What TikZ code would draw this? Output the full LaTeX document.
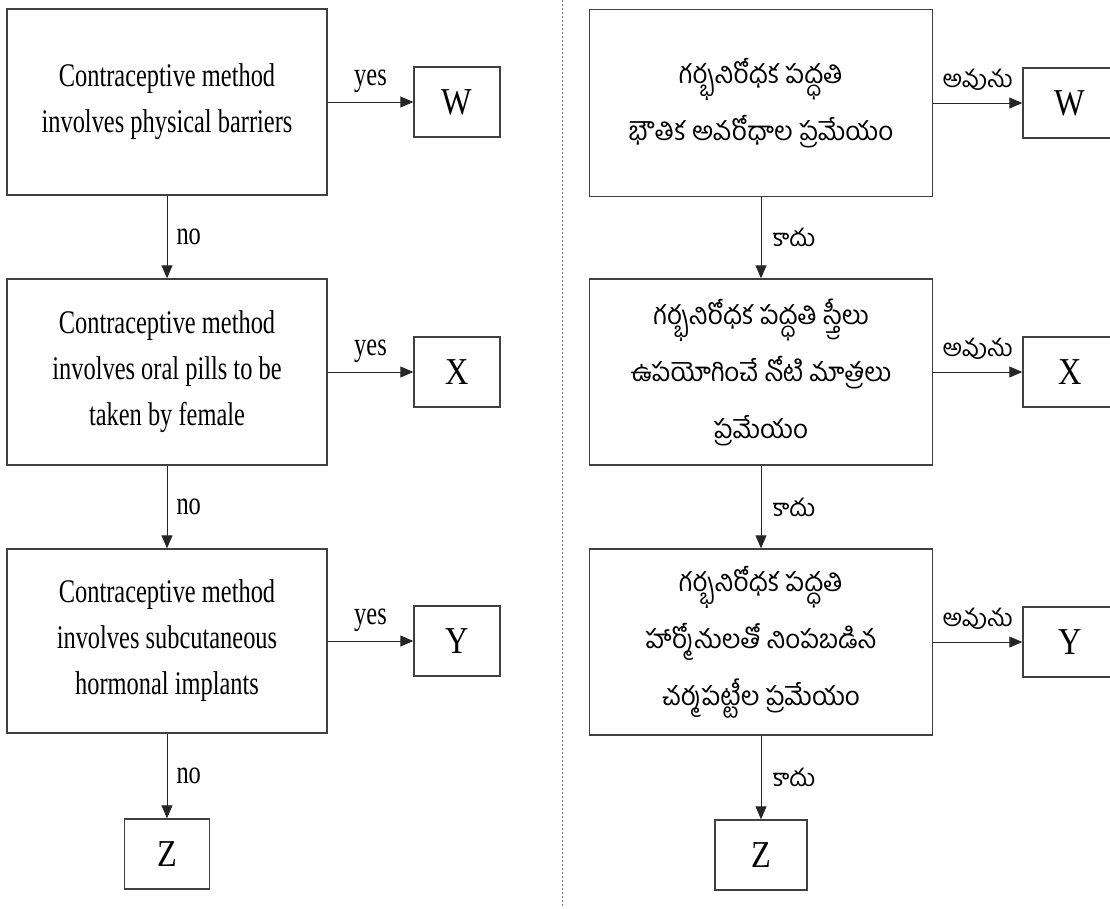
\documentclass[tikz,border=0pt]{standalone}
\usepackage{fontspec}
\setmainfont{Liberation Serif}
\newfontfamily\engf[FakeStretch=0.74]{Liberation Serif}
\newfontfamily\letf[FakeStretch=0.85]{Liberation Serif}
\newfontfamily\tel[Script=Telugu]{Hind Guntur}
\usetikzlibrary{arrows.meta}
\begin{document}
\begin{tikzpicture}[x=1pt,y=-1pt,
  qbox/.style={draw=black!75, line width=1.4pt, rectangle, inner sep=0pt, align=center},
  ebox/.style={qbox, minimum width=320pt, font=\engf\fontsize{33}{46}\selectfont},
  tbox/.style={qbox, minimum width=343pt, font=\tel\fontsize{26}{57}\selectfont},
  lbox/.style={qbox, minimum height=70pt, font=\letf\fontsize{38}{40}\selectfont},
  arr/.style={draw=black!85, line width=1pt, -{Triangle[length=13pt,width=11pt]}},
  elab/.style={font=\engf\fontsize{33}{40}\selectfont, inner sep=0pt},
  tlab/.style={font=\tel\fontsize{24}{30}\selectfont, inner sep=0pt},
  sep/.style={draw={rgb,255:red,110;green,120;blue,165}, line width=1pt, dash pattern=on 2pt off 2pt}
]
\useasboundingbox (0,0) rectangle (1110,908);
\clip (0,0) rectangle (1110,908);
\fill[white] (0,0) rectangle (1110,908);

% separator
\coordinate (s1) at (562,0);
\coordinate (s2) at (562,908);
\draw[sep] (s1) -- (s2);

% left column
\node[ebox, minimum height=186pt] (L1) at (167,102) {Contraceptive method\\involves physical barriers};
\node[ebox, minimum height=186pt] (L2) at (167,372) {Contraceptive method\\involves oral pills to be\\taken by female};
\node[ebox, minimum height=184pt] (L3) at (167,641) {Contraceptive method\\involves subcutaneous\\hormonal implants};
\node[lbox, minimum width=86pt] (LW) at (457,102) {W};
\node[lbox, minimum width=86pt] (LX) at (457,372) {X};
\node[lbox, minimum width=86pt] (LY) at (457,641) {Y};
\node[lbox, minimum width=85pt] (LZ) at (167,854) {Z};

\draw[arr] (L1) -- node[elab, above=9pt] {yes} (LW);
\draw[arr] (L2) -- node[elab, above=9pt] {yes} (LX);
\draw[arr] (L3) -- node[elab, above=9pt] {yes} (LY);
\draw[arr] (L1) -- node[elab, right=9pt] {no} (L2);
\draw[arr] (L2) -- node[elab, right=9pt] {no} (L3);
\draw[arr] (L3) -- node[elab, right=9pt] {no} (LZ);

% right column
\node[tbox, minimum height=187pt] (R1) at (761,103) {గర్భనిరోధక పద్ధతి\\భౌతిక అవరోధాల ప్రమేయం};
\node[tbox, minimum height=186pt] (R2) at (761,372) {గర్భనిరోధక పద్ధతి స్త్రీలు\\ఉపయోగించే నోటి మాత్రలు\\ప్రమేయం};
\node[tbox, minimum height=186pt] (R3) at (761,642) {గర్భనిరోధక పద్ధతి\\హార్మోనులతో నింపబడిన\\చర్మపట్టీల ప్రమేయం};
\node[lbox, minimum width=94pt] (RW) at (1070,103) {W};
\node[lbox, minimum width=94pt] (RX) at (1070,372) {X};
\node[lbox, minimum width=94pt] (RY) at (1070,642) {Y};
\node[lbox, minimum width=92pt] (RZ) at (761,855) {Z};

\draw[arr] (R1) -- node[tlab, above=12pt] {అవును} (RW);
\draw[arr] (R2) -- node[tlab, above=12pt] {అవును} (RX);
\draw[arr] (R3) -- node[tlab, above=12pt] {అవును} (RY);
\draw[arr] (R1) -- node[tlab, right=11pt] {కాదు} (R2);
\draw[arr] (R2) -- node[tlab, right=11pt] {కాదు} (R3);
\draw[arr] (R3) -- node[tlab, right=11pt] {కాదు} (RZ);
\end{tikzpicture}
\end{document}
